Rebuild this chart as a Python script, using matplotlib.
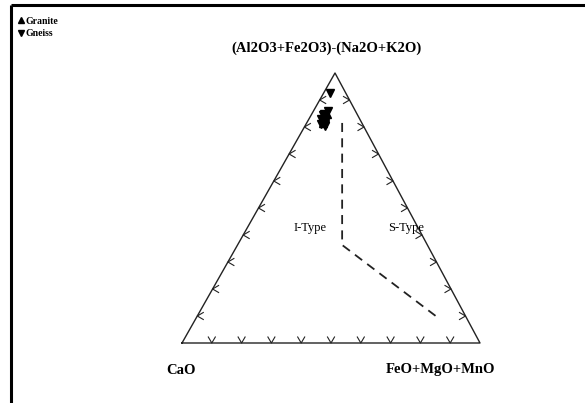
import numpy as np
import matplotlib.pyplot as plt
from matplotlib.lines import Line2D

# ternary data, percent: (top, left, right)
# top = (Al2O3+Fe2O3)-(Na2O+K2O), left = CaO, right = FeO+MgO+MnO
granite_top = [85.0, 83.5, 81.5, 82.5]
granite_left = [10.0, 11.5, 13.0, 12.5]
granite_right = [5.0, 5.0, 5.5, 5.0]

gneiss_top = [92.6, 86.0, 85.0, 83.5, 82.5, 81.5, 80.5, 83.0, 84.5, 81.0]
gneiss_left = [5.2, 9.0, 11.0, 11.5, 12.0, 12.5, 13.0, 13.0, 11.5, 14.0]
gneiss_right = [2.2, 5.0, 4.0, 5.0, 5.5, 6.0, 6.5, 4.0, 4.0, 5.0]

# I-type / S-type boundary
bound_top = [81.5, 36.3, 9.6]
bound_left = [6.6, 28.6, 9.7]
bound_right = [11.9, 35.1, 80.7]

# triangle corners on the page (pixels)
L = np.array([182.0, 343.0])
R = np.array([480.0, 343.0])
T = np.array([335.0, 73.0])


def tern(top, left, right):
    top, left, right = (np.asarray(v, float) for v in (top, left, right))
    s = top + left + right
    p = (np.outer(left / s, L) + np.outer(right / s, R) + np.outer(top / s, T))
    return p[:, 0], p[:, 1]


fig = plt.figure(figsize=(5.85, 4.03), dpi=100)
ax = fig.add_axes([0, 0, 1, 1])
ax.set_xlim(0, 585)
ax.set_ylim(403, 0)
ax.set_axis_off()

serif = 'Liberation Serif'

# page frame (top and left edges only)
ax.plot([11, 585], [5, 5], color='black', lw=2.2, solid_capstyle='butt')
ax.plot([11, 11], [5, 403], color='black', lw=2.2, solid_capstyle='butt')

# triangle
tri = np.array([L, R, T, L])
ax.plot(tri[:, 0], tri[:, 1], color='#222222', lw=1.0)

# tick marks every 10%
for k in range(1, 10):
    f = k / 10
    b = L + (R - L) * f
    ax.plot([b[0] - 3.5, b[0], b[0] + 3.5], [b[1] - 6, b[1], b[1] - 6], color='#222222', lw=0.8)
    lp = L + (T - L) * f
    ax.plot([lp[0] + 6, lp[0], lp[0] + 6], [lp[1] - 3.5, lp[1], lp[1] + 3.5], color='#222222', lw=0.8)
    rp = R + (T - R) * f
    ax.plot([rp[0] - 6, rp[0], rp[0] - 6], [rp[1] - 3.5, rp[1], rp[1] + 3.5], color='#222222', lw=0.8)

# boundary
bx, by = tern(bound_top, bound_left, bound_right)
ax.plot(bx, by, color='#222222', lw=1.3, dashes=(5, 3.5))

# samples
gx, gy = tern(granite_top, granite_left, granite_right)
ax.plot(gx, gy, '^', color='black', ms=6, ls='none')
nx, ny = tern(gneiss_top, gneiss_left, gneiss_right)
ax.plot(nx, ny, 'v', color='black', ms=6, ls='none')

# labels
ax.text(326, 48, '(Al2O3+Fe2O3)-(Na2O+K2O)', ha='center', va='center',
        family=serif, weight='bold', fontsize=10.5)
ax.text(166, 370, 'CaO', ha='left', va='center', family=serif, weight='bold', fontsize=10.5)
ax.text(440, 370, 'FeO+MgO+MnO', ha='center', va='center', family=serif, weight='bold', fontsize=10.5)
ax.text(310, 228, 'I-Type', ha='center', va='center', family=serif, fontsize=9)
ax.text(406, 228, 'S-Type', ha='center', va='center', family=serif, fontsize=9)

# legend
handles = [Line2D([], [], marker='^', color='black', ls='none', ms=4),
           Line2D([], [], marker='v', color='black', ls='none', ms=4)]
ax.legend(handles, ['Granite', 'Gneiss'], loc='upper left', bbox_to_anchor=(0.02, 0.975),
          frameon=False, handlelength=0.5, handletextpad=0.2, labelspacing=0.35,
          borderpad=0.2, prop={'family': serif, 'weight': 'bold', 'size': 7})

fig.savefig('out.png', dpi=100)
